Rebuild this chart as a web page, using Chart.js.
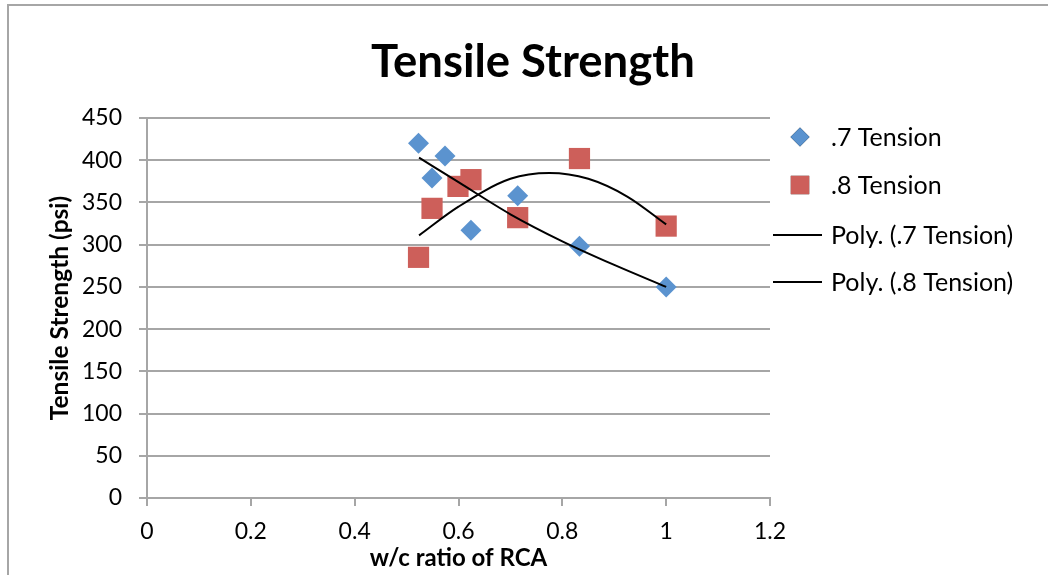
<!DOCTYPE html>
<html>
<head>
<meta charset="utf-8">
<script src="https://cdn.jsdelivr.net/npm/chart.js@4"></script>
<style>
  body { margin: 0; background: #fff; overflow: hidden; }
</style>
</head>
<body>
<canvas id="tensile" width="1048" height="575"></canvas>
<script>
// w/c ratio vs tensile strength
const ratio7 = [0.523, 0.549, 0.574, 0.624, 0.714, 0.833, 1.0];
const tension7 = [420, 379, 405, 317, 358, 298, 250];
const ratio8 = [0.523, 0.549, 0.599, 0.624, 0.714, 0.833, 1.0];
const tension8 = [285, 343, 369, 377, 332, 402, 322];

// polynomial trend lines
const trendX7 = [0.524, 0.6, 0.7, 0.8, 0.9, 1.0];
const trendY7 = [403, 374, 336, 304, 276, 250];
const trendX8 = [0.524, 0.6, 0.7, 0.775, 0.85, 0.925, 1.0];
const trendY8 = [311, 345, 378, 385, 378, 357, 324];

const xTicks = [0, 0.2, 0.4, 0.6, 0.8, 1, 1.2];
const yTicks = [0, 50, 100, 150, 200, 250, 300, 350, 400, 450];

const seriesNames = ['.7 Tension', '.8 Tension', 'Poly. (.7 Tension)', 'Poly. (.8 Tension)'];

const blue = '#5b93cf';
const red = '#cd5f5a';
const grey = '#a6a6a6';
const font = 'Lato';

function pts(xs, ys) {
	return xs.map((x, i) => ({ x: x, y: ys[i] }));
}

// outer frame + legend on the right, drawn by hand like the Excel one
const frameAndLegend = {
	id: 'frameAndLegend',
	beforeDraw(chart) {
		const ctx = chart.ctx;
		ctx.save();
		ctx.strokeStyle = grey;
		ctx.lineWidth = 2;
		ctx.beginPath();
		ctx.moveTo(8, 575);
		ctx.lineTo(8, 5);
		ctx.lineTo(1048, 5);
		ctx.stroke();
		ctx.restore();
	},
	afterDraw(chart) {
		const ctx = chart.ctx;
		const rows = [137, 185, 235, 282];
		ctx.save();
		ctx.font = '25px ' + font;
		ctx.textBaseline = 'middle';
		ctx.fillStyle = '#000';
		chart.data.datasets.forEach((ds, i) => {
			const y = rows[i];
			if (ds.showLine) {
				ctx.strokeStyle = ds.borderColor;
				ctx.lineWidth = 2;
				ctx.beginPath();
				ctx.moveTo(773, y);
				ctx.lineTo(822, y);
				ctx.stroke();
			} else {
				Chart.helpers.drawPoint(ctx, {
					pointStyle: ds.pointStyle,
					radius: ds.pointStyle === 'rect' ? 13 : 9.5,
					borderWidth: 0,
					rotation: 0
				}, 800, y);
				ctx.fillStyle = ds.backgroundColor;
				ctx.fill();
				ctx.fillStyle = '#000';
			}
			ctx.fillText(ds.label, 831, y + 1);
		});
		ctx.restore();
	}
};

new Chart(document.getElementById('tensile'), {
	type: 'scatter',
	data: {
		datasets: [
			{
				label: seriesNames[0],
				data: pts(ratio7, tension7),
				pointStyle: 'rectRot',
				pointRadius: 10.5,
				pointHoverRadius: 10.5,
				backgroundColor: blue,
				borderWidth: 0,
				order: 1,
			},
			{
				label: seriesNames[1],
				data: pts(ratio8, tension8),
				pointStyle: 'rect',
				pointRadius: 15,
				pointHoverRadius: 15,
				backgroundColor: red,
				borderWidth: 0,
				order: 1,
			},
			{
				label: seriesNames[2],
				data: pts(trendX7, trendY7),
				showLine: true,
				borderColor: '#000',
				borderWidth: 2,
				pointRadius: 0,
				cubicInterpolationMode: 'monotone',
				fill: false,
				order: 0,
			},
			{
				label: seriesNames[3],
				data: pts(trendX8, trendY8),
				showLine: true,
				borderColor: '#000',
				borderWidth: 2,
				pointRadius: 0,
				cubicInterpolationMode: 'monotone',
				fill: false,
				order: 0,
			},
		],
	},
	options: {
		responsive: false,
		animation: false,
		layout: { padding: { left: 18, right: 0, top: 0, bottom: 0 } },
		plugins: {
			legend: { display: false },
			tooltip: { enabled: false },
			title: {
				display: true,
				text: 'Tensile Strength',
				color: '#000',
				font: { family: font, size: 45.5, weight: 'bold', lineHeight: 1.2 },
				padding: { top: 35, bottom: 28.4 },
			},
		},
		scales: {
			x: {
				type: 'linear',
				min: 0,
				max: 1.2,
				afterBuildTicks: s => { s.ticks = xTicks.map(v => ({ value: v })); },
				afterFit: s => { s.height = 77; },
				ticks: {
					color: '#000',
					font: { family: font, size: 23 },
					padding: 12,
					maxRotation: 0,
					callback: v => String(v),
				},
				grid: { drawOnChartArea: false, drawTicks: true, tickLength: 8, color: grey, lineWidth: 2 },
				border: { color: grey, width: 2 },
				title: {
					display: true,
					text: 'w/c ratio of RCA',
					color: '#000',
					font: { family: font, size: 24, weight: 'bold', lineHeight: 1.2 },
					padding: { top: 0, bottom: 2 },
				},
			},
			y: {
				type: 'linear',
				min: 0,
				max: 450,
				afterBuildTicks: s => { s.ticks = yTicks.map(v => ({ value: v })); },
				afterFit: s => { s.width = 129; },
				ticks: {
					color: '#000',
					font: { family: font, size: 23 },
					padding: 17,
					callback: v => String(v),
				},
				grid: { color: grey, lineWidth: 2, tickLength: 8 },
				border: { color: grey, width: 2 },
				title: {
					display: true,
					text: 'Tensile Strength (psi)',
					color: '#000',
					font: { family: font, size: 24.5, weight: 'bold', lineHeight: 1.2 },
					padding: { top: 27, bottom: 0 },
				},
			},
			legendSpace: {
				type: 'linear',
				position: 'right',
				min: 0,
				max: 1,
				afterFit: s => { s.width = 278; },
				ticks: { display: false },
				grid: { display: false },
				border: { display: false },
			},
		},
	},
	plugins: [frameAndLegend],
});
</script>
</body>
</html>
